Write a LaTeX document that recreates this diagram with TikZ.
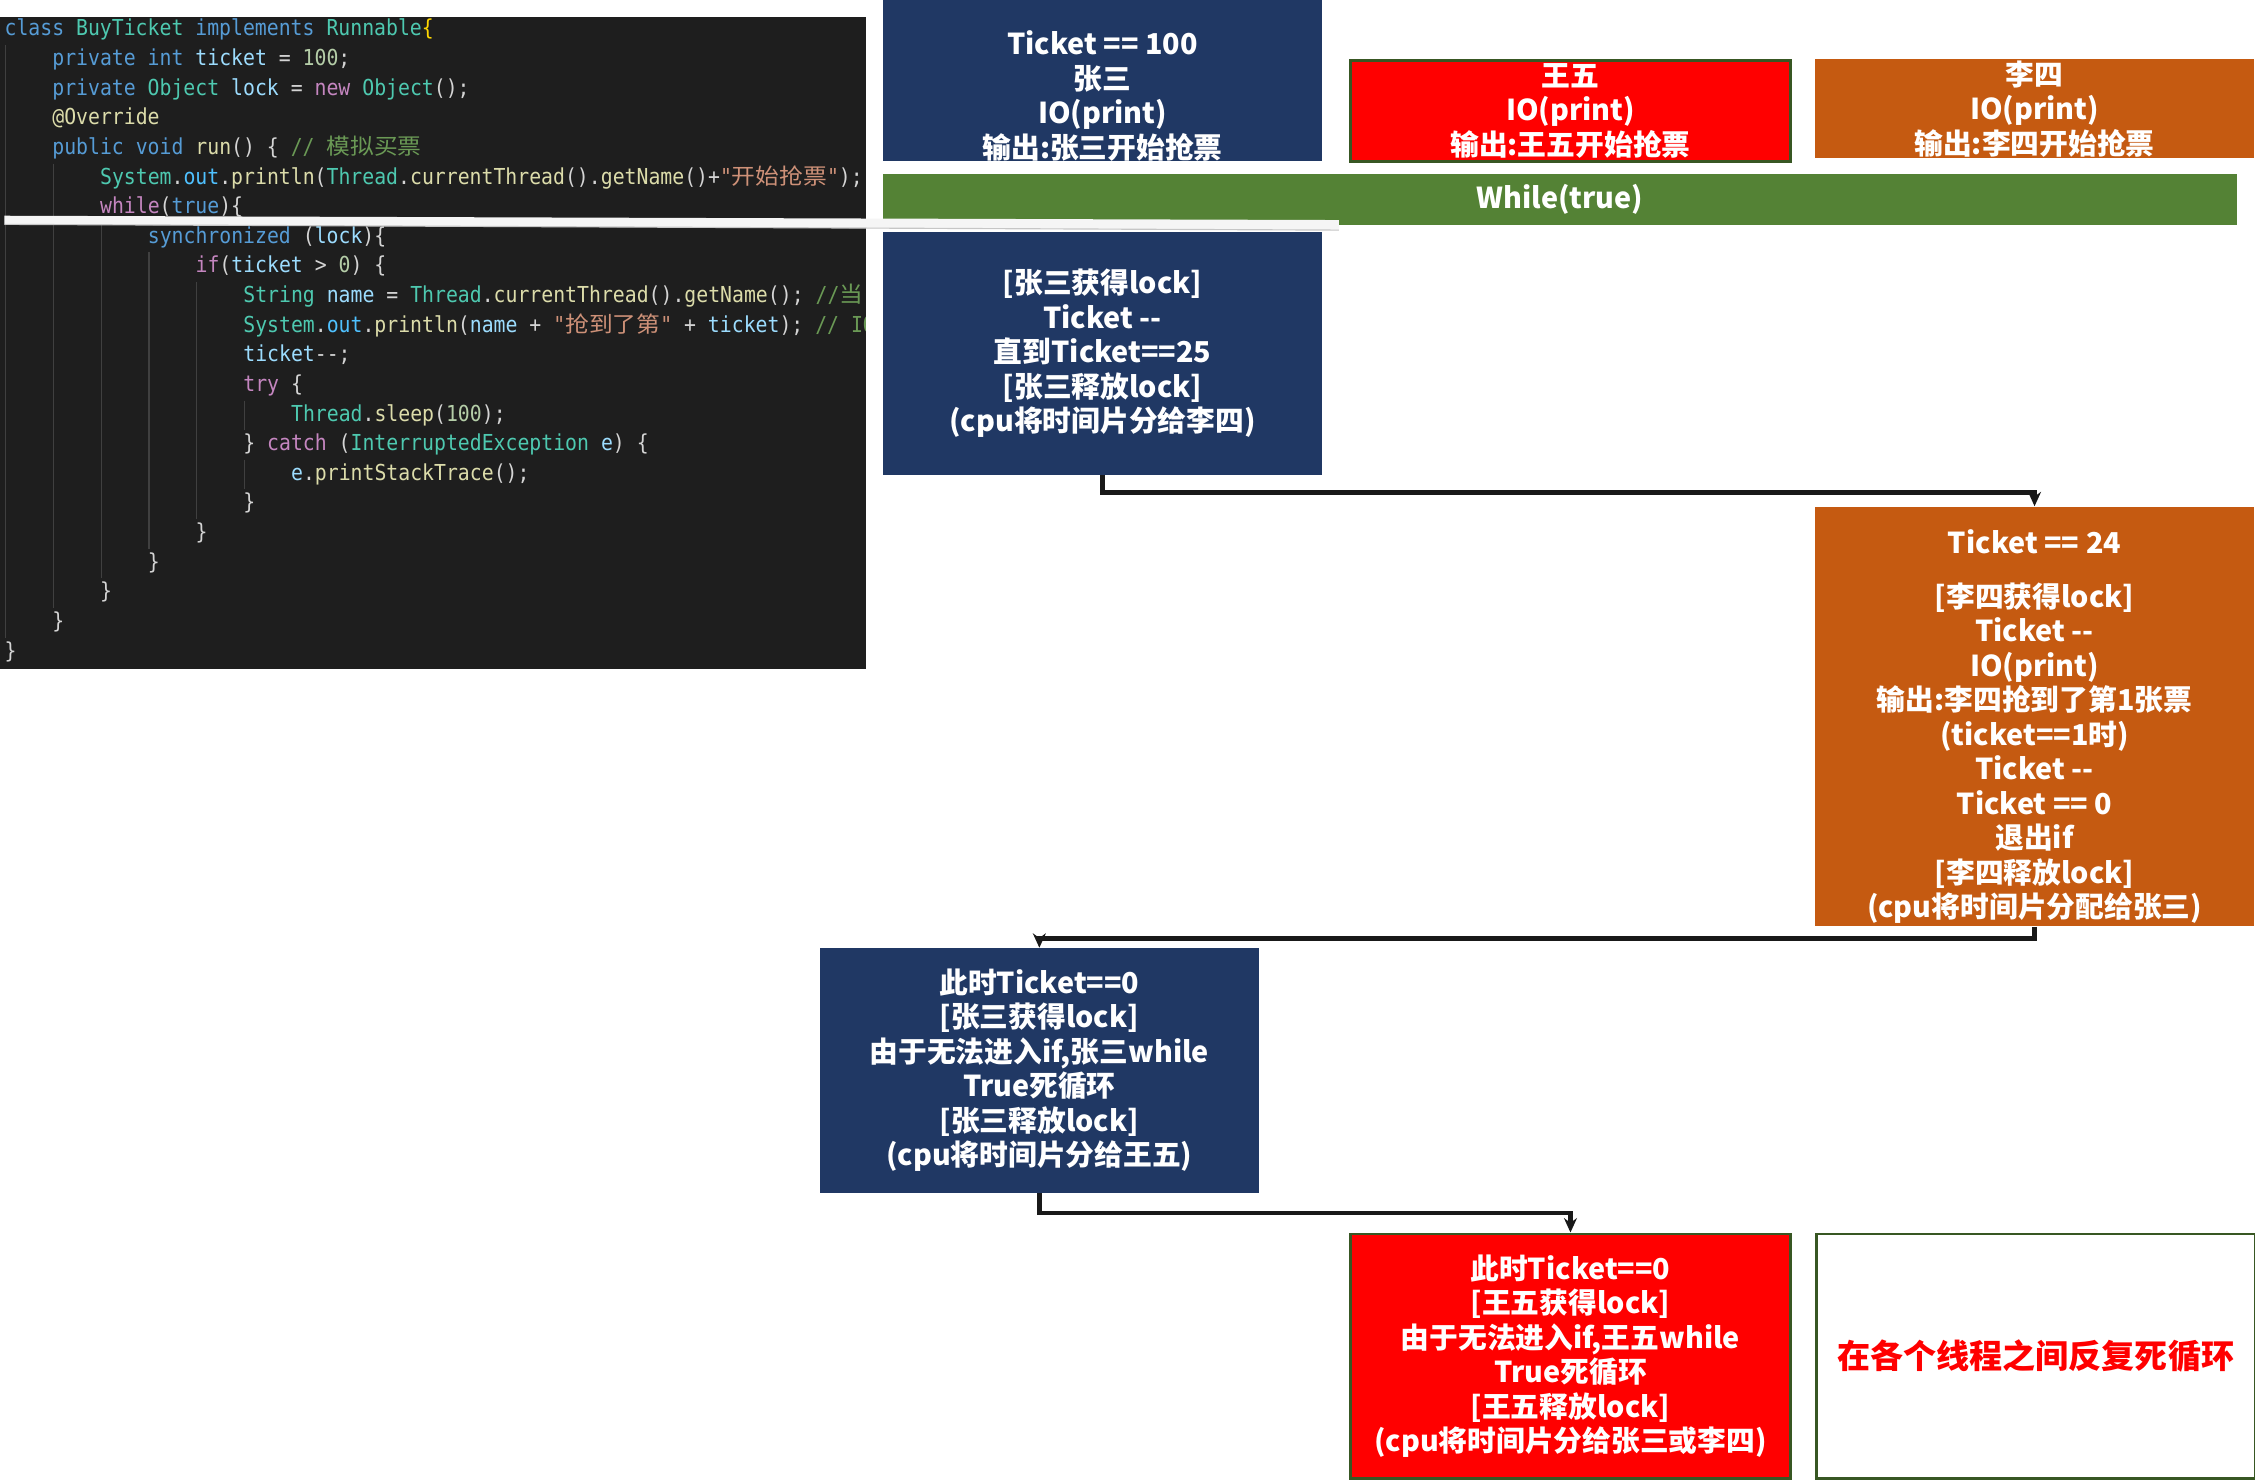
\documentclass[tikz,border=0pt]{standalone}
\usepackage{fontspec}
\usepackage{xcolor}
\usepackage{tikz}
\usetikzlibrary{positioning,calc,arrows.meta}
\newfontfamily\yh{Noto Sans CJK SC}
\newfontfamily\codefont[FakeStretch=0.9]{DejaVu Sans Mono}
\newfontfamily\codecjk[FakeStretch=1.08]{Noto Sans CJK SC}
\definecolor{navy}{HTML}{203864}
\definecolor{rust}{HTML}{C55A11}
\definecolor{leaf}{HTML}{548235}
\definecolor{rim}{HTML}{385723}
\definecolor{codebg}{HTML}{1E1E1E}
\definecolor{guide}{HTML}{404040}
\definecolor{ckw}{HTML}{569CD6}
\definecolor{cty}{HTML}{4EC9B0}
\definecolor{cvr}{HTML}{9CDCFE}
\definecolor{cvo}{HTML}{4FC1FF}
\definecolor{cfn}{HTML}{DCDCAA}
\definecolor{cst}{HTML}{CE9178}
\definecolor{cnm}{HTML}{B5CEA8}
\definecolor{ccm}{HTML}{6A9955}
\definecolor{cct}{HTML}{C586C0}
\definecolor{ctx}{HTML}{D4D4D4}
\definecolor{cbr}{HTML}{FFD700}
\newcommand\jkw[1]{\textcolor{ckw}{#1}}
\newcommand\jty[1]{\textcolor{cty}{#1}}
\newcommand\jvr[1]{\textcolor{cvr}{#1}}
\newcommand\jvo[1]{\textcolor{cvo}{#1}}
\newcommand\jfn[1]{\textcolor{cfn}{#1}}
\newcommand\jst[1]{\textcolor{cst}{#1}}
\newcommand\jnm[1]{\textcolor{cnm}{#1}}
\newcommand\jcm[1]{\textcolor{ccm}{#1}}
\newcommand\jct[1]{\textcolor{cct}{#1}}
\newcommand\zh[1]{{\codecjk #1}}
\tikzstyle{card} = [rectangle, anchor=north west, inner sep=0pt, align=center, text=white, font=\yh\bfseries\fontsize{20}{24}\selectfont]
\tikzstyle{codeline} = [anchor=base west, inner sep=0pt, text=ctx, font=\codefont\fontsize{15.3}{18}\selectfont]
\tikzstyle{arrow} = [line width=3.2pt, draw=black!90, -{Stealth[length=10pt,width=9pt]}]
\begin{document}
\begin{tikzpicture}[x=1pt,y=-1pt]
    \useasboundingbox (0,0) rectangle (1568,1029.1);
    % Codigo
    \fill[codebg] (0,12) rectangle (602,465);
    \begin{scope}
    \clip (0,12) rectangle (602,465);
    \draw[guide, line width=1pt] (4,31.3) -- (4,443.3);
    \draw[guide, line width=1pt] (37.2,113.7) -- (37.2,422.7);
    \draw[guide, line width=1pt] (70.4,154.9) -- (70.4,402.1);
    \draw[guide, line width=1pt] (103.6,175.5) -- (103.6,381.5);
    \draw[guide, line width=1pt] (136.8,196.1) -- (136.8,360.9);
    \draw[guide, line width=1pt] (170,278.5) -- (170,299.1);
    \draw[guide, line width=1pt] (170,319.7) -- (170,340.3);
    \node[codeline] (c1) at (3,25.0) {\jkw{class} \jty{BuyTicket} \jkw{implements} \jty{Runnable}\textcolor{cbr}{\{}};
    \node[codeline] (c2) at (36.2,45.6) {\jkw{private} \jkw{int} \jvr{ticket} = \jnm{100};};
    \node[codeline] (c3) at (36.2,66.2) {\jkw{private} \jty{Object} \jvr{lock} = \jct{new} \jty{Object}();};
    \node[codeline] (c4) at (36.2,86.8) {\jfn{@Override}};
    \node[codeline] (c5) at (36.2,107.4) {\jkw{public} \jkw{void} \jfn{run}() \{ \jcm{// \zh{模拟买票}}};
    \node[codeline] (c6) at (69.4,128.0) {\jty{System}.\jvo{out}.\jfn{println}(\jty{Thread}.\jfn{currentThread}().\jfn{getName}()+\jst{"\zh{开始抢票}"});};
    \node[codeline] (c7) at (69.4,148.6) {\jct{while}(\jkw{true})\{};
    \node[codeline] (c8) at (102.6,169.2) {\jkw{synchronized} (\jvr{lock})\{};
    \node[codeline] (c9) at (135.8,189.8) {\jct{if}(\jvr{ticket} > \jnm{0}) \{};
    \node[codeline] (c10) at (169,210.4) {\jty{String} \jvr{name} = \jty{Thread}.\jfn{currentThread}().\jfn{getName}(); \jcm{//\zh{当}}};
    \node[codeline] (c11) at (169,231.0) {\jty{System}.\jvo{out}.\jfn{println}(\jvr{name} + \jst{"\zh{抢到了第}"} + \jvr{ticket}); \jcm{// IO}};
    \node[codeline] (c12) at (169,251.6) {\jvr{ticket}-{}-;};
    \node[codeline] (c13) at (169,272.2) {\jct{try} \{};
    \node[codeline] (c14) at (202.2,292.8) {\jty{Thread}.\jfn{sleep}(\jnm{100});};
    \node[codeline] (c15) at (169,313.4) {\} \jct{catch} (\jty{InterruptedException} \jvr{e}) \{};
    \node[codeline] (c16) at (202.2,334.0) {\jvr{e}.\jfn{printStackTrace}();};
    \node[codeline] (c17) at (169,354.6) {\}};
    \node[codeline] (c18) at (135.8,375.2) {\}};
    \node[codeline] (c19) at (102.6,395.8) {\}};
    \node[codeline] (c20) at (69.4,416.4) {\}};
    \node[codeline] (c21) at (36.2,437.0) {\}};
    \node[codeline] (c22) at (3,457.6) {\}};
    \end{scope}

    % Threads
    \node[card, fill=navy, minimum width=305pt, minimum height=110pt] (zs1) at (614,0) {\rule{0pt}{38pt}Ticket == 100\\张三\\IO(print)\\输出:张三开始抢票};
    \node[card, fill=red, draw=rim, line width=2pt, minimum width=306pt, minimum height=70pt] (ww1) at (938,41) {王五\\IO(print)\\输出:王五开始抢票};
    \node[card, fill=rust, minimum width=305pt, minimum height=69pt] (ls1) at (1262,41) {李四\\IO(print)\\输出:李四开始抢票};
    \node[card, fill=leaf, minimum width=941pt, minimum height=35pt] (loop) at (614,121) {While(true)};

    % Passos
    \node[card, fill=navy, minimum width=305pt, minimum height=169pt] (zs2) at (614,161) {{[}张三获得lock{]}\\Ticket -{}-\\直到Ticket==25\\{[}张三释放lock{]}\\(cpu将时间片分给李四)};
    \node[card, fill=rust, minimum width=305pt, minimum height=292pt] (ls2) at (1262,352) {\rule{0pt}{31pt}Ticket == 24\\[13pt]{[}李四获得lock{]}\\Ticket -{}-\\IO(print)\\输出:李四抢到了第1张票\\(ticket==1时)\\Ticket -{}-\\Ticket == 0\\退出if\\{[}李四释放lock{]}\\(cpu将时间片分配给张三)};
    \node[card, fill=navy, minimum width=305pt, minimum height=170pt] (zs3) at (570,659) {此时Ticket==0\\{[}张三获得lock{]}\\由于无法进入if,张三while\\True死循环\\{[}张三释放lock{]}\\(cpu将时间片分给王五)};
    \node[card, fill=red, draw=rim, line width=2pt, minimum width=306pt, minimum height=170pt] (ww2) at (938,857) {此时Ticket==0\\{[}王五获得lock{]}\\由于无法进入if,王五while\\True死循环\\{[}王五释放lock{]}\\(cpu将时间片分给张三或李四)};
    \node[card, fill=white, draw=rim, line width=2pt, text=red, font=\yh\bfseries\fontsize{23}{28}\selectfont, minimum width=305pt, minimum height=170pt] (note) at (1262,857) {在各个线程之间反复死循环};

    % Setas
    \draw[arrow] (zs2.south) -- ++(0,12) -| (ls2.north);
    \draw[arrow] (ls2.south) -- ++(0,8) -| (zs3.north);
    \draw[arrow] (zs3.south) -- ++(0,14) -| (ww2.north);

    % Faixa
    \fill[gray!8] (3,150) -- (931,153) -- (931,160) -- (3,156) -- cycle;
    \draw[gray!45, line width=0.8pt] (3,156) -- (931,160);
\end{tikzpicture}
\end{document}
